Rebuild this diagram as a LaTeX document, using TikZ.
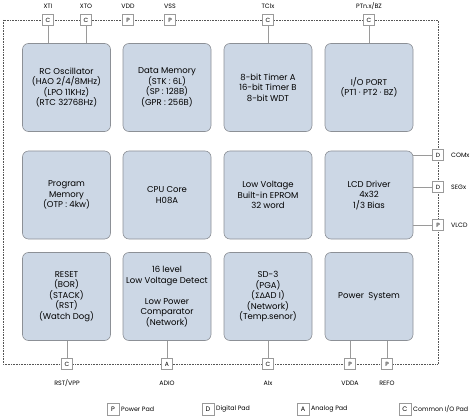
\documentclass[tikz,border=0pt]{standalone}
\usepackage{fontspec}
\setmainfont{Poppins}
\newfontfamily\gk{DejaVu Sans}
\definecolor{blkfill}{HTML}{CCD7E5}
\definecolor{blkdraw}{HTML}{8C9096}
\definecolor{wirec}{HTML}{9A9A9A}
\definecolor{bordc}{HTML}{555555}
\begin{document}
\begin{tikzpicture}[x=1pt,y=-1pt,
  blk/.style={draw=blkdraw, line width=0.6pt, fill=blkfill, rounded corners=6pt,
    minimum width=88pt, minimum height=88pt, align=center, inner sep=0pt,
    font=\fontsize{8.5}{10.5}\selectfont, text=black},
  pad/.style={draw=wirec, line width=0.5pt, fill=white, minimum size=11pt, inner sep=0pt,
    font=\fontsize{6}{6}\selectfont},
  lgpad/.style={pad, minimum size=12pt, font=\fontsize{6.5}{7}\selectfont},
  lbl/.style={font=\fontsize{6.3}{7}\selectfont, inner sep=0pt},
  lgtxt/.style={font=\fontsize{6.3}{7}\selectfont, inner sep=0pt, anchor=west},
  wire/.style={draw=wirec, line width=0.6pt},
  bord/.style={draw=bordc, line width=0.6pt, densely dotted}]
\useasboundingbox (0,0) rectangle (474,417);
% border
\coordinate (tl) at (3,20);
\coordinate (br) at (438,364);
\draw[bord] (tl) rectangle (br);
% blocks
\node[blk] (osc) at (66.5,87.5) {RC Oscillator\\(HAO 2/4/8MHz)\\(LPO 11KHz)\\(RTC 32768Hz)};
\node[blk] (dmem) at (167,87.5) {Data Memory\\(STK : 6L)\\(SP : 128B)\\(GPR : 256B)};
\node[blk] (tmr) at (268,87.5) {8-bit Timer A\\16-bit Timer B\\8-bit WDT};
\node[blk] (io) at (369,87.5) {I/O PORT\\(PT1 · PT2 · BZ)};
\node[blk] (pmem) at (66.5,195) {Program\\Memory\\(OTP : 4kw)};
\node[blk] (cpu) at (167,195) {CPU Core\\H08A};
\node[blk] (eprom) at (268,195) {Low Voltage\\Built-in EPROM\\32 word};
\node[blk] (lcd) at (369,195) {LCD Driver\\4x32\\1/3 Bias};
\node[blk] (rst) at (66.5,296.5) {RESET\\(BOR)\\(STACK)\\(RST)\\(Watch Dog)};
\node[blk] (lvd) at (167,296.5) {16 level\\Low Voltage Detect\\[10.5pt]Low Power\\Comparator\\(Network)};
\node[blk] (sd) at (268,296.5) {SD-3\\(PGA)\\({\gk\fontsize{7.5}{9}\selectfont ΣΔ}AD I)\\(Network)\\(Temp.senor)};
\node[blk] (pwr) at (369,296.5) {Power\ \ System};
% top pads
\node[pad] (xti) at (48,20) {C};
\node[pad] (xto) at (86,20) {C};
\node[pad] (vdd) at (128,20) {P};
\node[pad] (vss) at (170,20) {P};
\node[pad] (tcl) at (268,20) {C};
\node[pad] (ptn) at (369,20) {C};
\node[lbl] (lxti) at (48,6) {XTI};
\node[lbl] (lxto) at (86,6) {XTO};
\node[lbl] (lvdd) at (128,6) {VDD};
\node[lbl] (lvss) at (170,6) {VSS};
\node[lbl] (ltcl) at (268,6) {TClx};
\node[lbl] (lptn) at (369,6) {PTn.x/BZ};
% right pads
\node[pad] (com) at (438,155) {D};
\node[pad] (seg) at (438,187) {D};
\node[pad] (vlcd) at (438,225) {P};
\node[lbl, anchor=west] (lcom) at (451,155) {COMx};
\node[lbl, anchor=west] (lseg) at (451,187) {SEGx};
\node[lbl, anchor=west] (lvlcd) at (451,225) {VLCD};
% bottom pads
\node[pad] (rstp) at (67,364) {C};
\node[pad] (adio) at (167,364) {A};
\node[pad] (aix) at (268,364) {C};
\node[pad] (vdda) at (350,364) {P};
\node[pad] (refo) at (387,364) {P};
\node[lbl] (lrstp) at (67,383) {RST/VPP};
\node[lbl] (ladio) at (167,383) {ADIO};
\node[lbl] (laix) at (268,383) {AIx};
\node[lbl] (lvdda) at (350,383) {VDDA};
\node[lbl] (lrefo) at (387,383) {REFO};
% connectors
\draw[wire] (xti.south) -- (xti.south |- osc.north);
\draw[wire] (xto.south) -- (xto.south |- osc.north);
\draw[wire] (tcl.south) -- (tcl.south |- tmr.north);
\draw[wire] (ptn.south) -- (ptn.south |- io.north);
\draw[wire] (com.west) -- (com.west -| lcd.east);
\draw[wire] (seg.west) -- (seg.west -| lcd.east);
\draw[wire] (vlcd.west) -- (vlcd.west -| lcd.east);
\draw[wire] (rstp.north) -- (rstp.north |- rst.south);
\draw[wire] (adio.north) -- (adio.north |- lvd.south);
\draw[wire] (aix.north) -- (aix.north |- sd.south);
\draw[wire] (vdda.north) -- (vdda.north |- pwr.south);
\draw[wire] (refo.north) -- (refo.north |- pwr.south);
% legend
\node[lgpad] (lgp) at (113,409) {P};
\node[lgtxt] (lgpt) at (121,409) {Power Pad};
\node[lgpad] (lgd) at (208,409) {D};
\node[lgtxt] (lgdt) at (216,409) {Digital Pad};
\node[lgpad] (lga) at (303,409) {A};
\node[lgtxt] (lgat) at (311,409) {Analog Pad};
\node[lgpad] (lgc) at (405,409) {C};
\node[lgtxt] (lgct) at (413,409) {Common I/O Pad};
\end{tikzpicture}
\end{document}
